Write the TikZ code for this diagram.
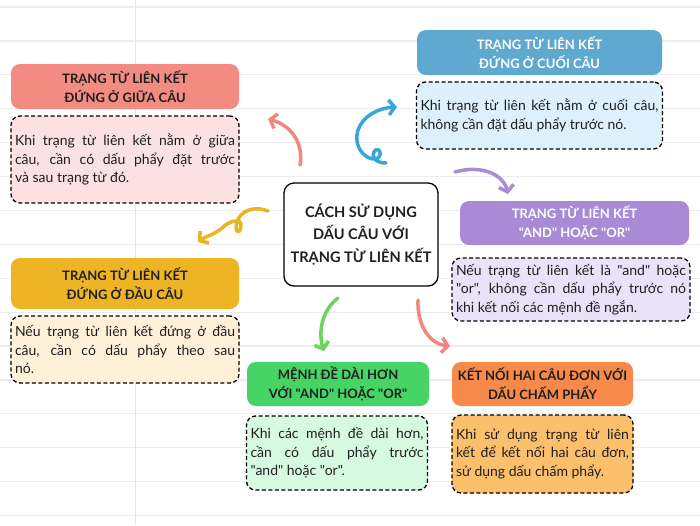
\documentclass[tikz,border=0pt]{standalone}
\usepackage{fontspec}
\setmainfont{Lato}[Ligatures=TeXOff]
\usetikzlibrary{arrows.meta}
\tolerance=9999
\hbadness=10000

\definecolor{salmon}{HTML}{F28B82}
\definecolor{salmonbg}{HTML}{FBE1E1}
\definecolor{sky}{HTML}{5FA8CF}
\definecolor{skybg}{HTML}{DDF0FB}
\definecolor{lilac}{HTML}{A88AD6}
\definecolor{lilacbg}{HTML}{EAE2F8}
\definecolor{mustard}{HTML}{EDB425}
\definecolor{mustardbg}{HTML}{FFF1D8}
\definecolor{leaf}{HTML}{45D465}
\definecolor{leafbg}{HTML}{D6FAE0}
\definecolor{tangerine}{HTML}{F7894A}
\definecolor{tangerinebg}{HTML}{FCC06C}
\definecolor{ink}{HTML}{1F1F1F}
\definecolor{rule}{HTML}{ECECF1}
\definecolor{margin}{HTML}{F7DDE6}
\definecolor{bluearr}{HTML}{3AA5DD}
\definecolor{yellowarr}{HTML}{E9B622}
\definecolor{greenarr}{HTML}{6BD45B}
\definecolor{purplearr}{HTML}{A78CD8}
\definecolor{redarr}{HTML}{F2887D}

\begin{document}
\begin{tikzpicture}[x=1pt,y=-1pt,
    title/.style={rounded corners=9pt, align=center, inner sep=2pt,
        font=\bfseries\fontsize{13}{19}\selectfont, text=ink},
    body/.style={draw=black, dashed, dash pattern=on 4pt off 2.5pt, line width=1.3pt,
        rounded corners=9pt, inner xsep=4pt, inner ysep=2pt, align=justify, text=ink,
        font=\fontsize{14}{18.6}\selectfont},
    arr/.style={line width=3.5pt, line cap=round, line join=round,
        -{Straight Barb[length=6pt,width=15pt]}}]
    \useasboundingbox (0,0) rectangle (700,525);
    \fill[white] (0,0) rectangle (700,525);
    %paper lines
    \foreach \k in {0,...,15}
        \draw[rule, line width=1.2pt] (0,7+33.9*\k) -- (700,7+33.9*\k);
    \draw[margin, line width=1pt] (135,0) -- (135,525);

    %centre
    \node[draw=black, line width=1.3pt, fill=white, rounded corners=10pt, align=center,
        minimum width=154pt, minimum height=103pt, text=ink,
        font=\bfseries\fontsize{14.6}{22.5}\selectfont] (centre) at (361,234.5)
        {CÁCH SỬ DỤNG\\DẤU CÂU VỚI\\TRẠNG TỪ LIÊN KẾT};

    %middle of the sentence
    \node[title, fill=salmon, minimum width=228pt, minimum height=45pt] (gtitle) at (125,86.5)
        {TRẠNG TỪ LIÊN KẾT\\ĐỨNG Ở GIỮA CÂU};
    \node[body, fill=salmonbg, text width=220pt, minimum height=87pt] (gbody) at (125,159.5)
        {Khi trạng từ liên kết nằm ở giữa\linebreak câu, cần có dấu phẩy đặt trước\linebreak và sau trạng từ đó.};

    %end of the sentence
    \node[title, fill=sky, text=white, minimum width=245pt, minimum height=45pt] (ctitle) at (539.5,52.5)
        {TRẠNG TỪ LIÊN KẾT\\ĐỨNG Ở CUỐI CÂU};
    \node[body, fill=skybg, text width=238pt, minimum height=67pt] (cbody) at (539.5,115.5)
        {Khi trạng từ liên kết nằm ở cuối câu,\linebreak không cần đặt dấu phẩy trước nó.};

    %and / or
    \node[title, fill=lilac, text=white, minimum width=229pt, minimum height=44pt] (atitle) at (574.5,223)
        {TRẠNG TỪ LIÊN KẾT\\"AND" HOẶC "OR"};
    \node[body, fill=lilacbg, text width=230pt, minimum height=63pt] (abody) at (571,289.5)
        {Nếu trạng từ liên kết là "and" hoặc\linebreak "or", không cần dấu phẩy trước nó\linebreak khi kết nối các mệnh đề ngắn.};

    %start of the sentence
    \node[title, fill=mustard, minimum width=228pt, minimum height=51pt] (dtitle) at (125,283.5)
        {TRẠNG TỪ LIÊN KẾT\\ĐỨNG Ở ĐẦU CÂU};
    \node[body, fill=mustardbg, text width=220pt, minimum height=67pt] (dbody) at (125,349.5)
        {Nếu trạng từ liên kết đứng ở đầu\linebreak câu, cần có dấu phẩy theo sau\linebreak nó.};

    %longer clauses
    \node[title, fill=leaf, minimum width=182pt, minimum height=44pt] (mtitle) at (338,384)
        {MỆNH ĐỀ DÀI HƠN\\VỚI "AND" HOẶC "OR"};
    \node[body, fill=leafbg, text width=173pt, minimum height=74pt] (mbody) at (337,453)
        {Khi các mệnh đề dài hơn,\linebreak cần có dấu phẩy trước\linebreak "and" hoặc "or".};

    %semicolon
    \node[title, fill=tangerine, minimum width=181pt, minimum height=44pt] (ktitle) at (542.5,384)
        {KẾT NỐI HAI CÂU ĐƠN VỚI\\DẤU CHẤM PHẨY};
    \node[body, fill=tangerinebg, text width=173pt, minimum height=78pt] (kbody) at (542.5,454)
        {Khi sử dụng trạng từ liên\linebreak kết để kết nối hai câu đơn,\linebreak sử dụng dấu chấm phẩy.};

    %arrows
    \coordinate (g0) at (300,165);  \coordinate (g1) at (268,119);
    \coordinate (c0) at (386,163);  \coordinate (c1) at (397,107);
    \coordinate (a0) at (455,172);  \coordinate (a1) at (508,194);
    \coordinate (d0) at (268,211);  \coordinate (d1) at (198,242);
    \coordinate (m0) at (338,298);  \coordinate (m1) at (324,351);
    \coordinate (k0) at (418,300);  \coordinate (k1) at (450,346);
    \draw[arr, redarr] (g0) .. controls (304,142) and (290,125) .. (g1);
    \draw[arr, bluearr] (c0) .. controls (377,163) and (371,158) .. (374,152)
        .. controls (377,146) and (384,152) .. (378,158)
        .. controls (370,163) and (352,150) .. (358,130)
        .. controls (363,116) and (378,108) .. (c1);
    \draw[arr, purplearr] (a0) .. controls (484,164) and (504,176) .. (a1);
    \draw[arr, yellowarr] (d0) .. controls (252,205) and (240,212) .. (237,222)
        .. controls (234,232) and (240,236) .. (241,226)
        .. controls (242,218) and (230,220) .. (222,228)
        .. controls (214,235) and (206,236) .. (d1);
    \draw[arr, greenarr] (m0) .. controls (322,310) and (318,332) .. (m1);
    \draw[arr, redarr] (k0) .. controls (417,326) and (430,344) .. (k1);
\end{tikzpicture}
\end{document}
